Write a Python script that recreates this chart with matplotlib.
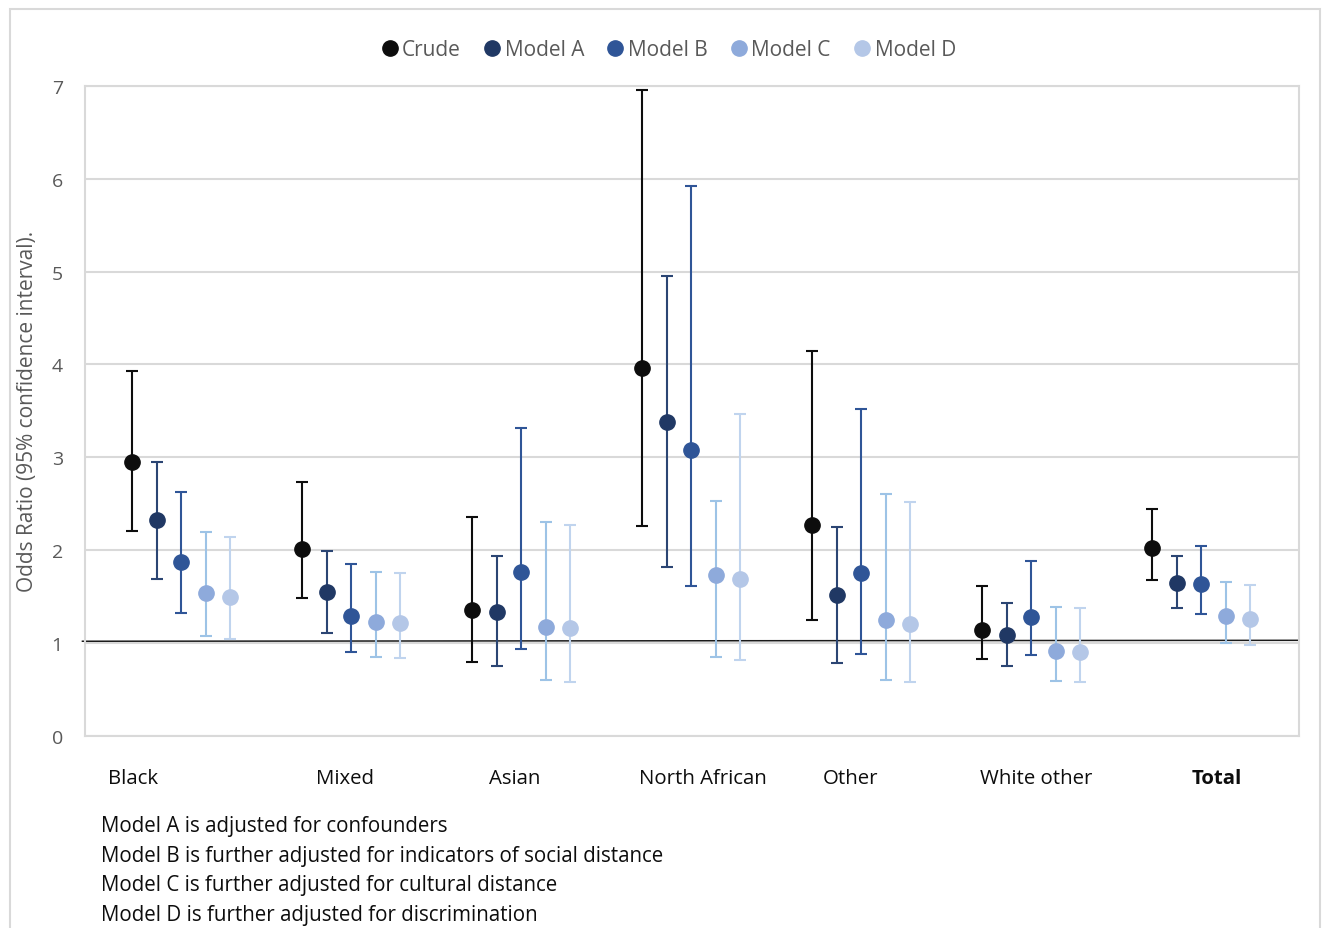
import matplotlib
matplotlib.use("Agg")
import matplotlib.pyplot as plt
from matplotlib.patches import Rectangle
from matplotlib.lines import Line2D
import numpy as np

plt.rcParams['font.family'] = ['Open Sans', 'DejaVu Sans']

categories = ["Black", "Mixed", "Asian", "North African", "Other", "White other", "Total"]
series = ["Crude", "Model A", "Model B", "Model C", "Model D"]

# point estimates per series (one value per category)
crude_or = [2.95, 2.01, 1.36, 3.96, 2.27, 1.14, 2.02]
modelA_or = [2.32, 1.55, 1.34, 3.38, 1.52, 1.09, 1.65]
modelB_or = [1.87, 1.29, 1.77, 3.08, 1.75, 1.28, 1.64]
modelC_or = [1.54, 1.23, 1.17, 1.73, 1.25, 0.91, 1.29]
modelD_or = [1.50, 1.22, 1.16, 1.69, 1.21, 0.90, 1.26]

# lower 95% CI
crude_lo = [2.21, 1.49, 0.80, 2.26, 1.25, 0.83, 1.68]
modelA_lo = [1.69, 1.11, 0.75, 1.82, 0.79, 0.75, 1.38]
modelB_lo = [1.32, 0.90, 0.94, 1.61, 0.88, 0.87, 1.31]
modelC_lo = [1.08, 0.85, 0.60, 0.85, 0.60, 0.59, 1.00]
modelD_lo = [1.04, 0.84, 0.58, 0.82, 0.58, 0.58, 0.98]

# upper 95% CI
crude_hi = [3.93, 2.73, 2.36, 6.95, 4.14, 1.61, 2.44]
modelA_hi = [2.95, 1.99, 1.94, 4.95, 2.25, 1.43, 1.94]
modelB_hi = [2.63, 1.85, 3.32, 5.92, 3.52, 1.88, 2.05]
modelC_hi = [2.20, 1.76, 2.30, 2.53, 2.60, 1.39, 1.66]
modelD_hi = [2.14, 1.75, 2.27, 3.47, 2.52, 1.38, 1.63]

yticks = [0, 1, 2, 3, 4, 5, 6, 7]
footnotes = [
    "Model A is adjusted for confounders",
    "Model B is further adjusted for indicators of social distance",
    "Model C is further adjusted for cultural distance",
    "Model D is further adjusted for discrimination",
]

point_vals = [crude_or, modelA_or, modelB_or, modelC_or, modelD_or]
lo_vals = [crude_lo, modelA_lo, modelB_lo, modelC_lo, modelD_lo]
hi_vals = [crude_hi, modelA_hi, modelB_hi, modelC_hi, modelD_hi]

marker_colors = ["#0d0d0d", "#203864", "#2f5597", "#8eaadb", "#b4c7e7"]
err_colors = ["#0d0d0d", "#2b4573", "#2f5597", "#9dc3e6", "#c0d4ee"]

W, H = 1325, 929
fig = plt.figure(figsize=(W / 100, H / 100), dpi=100)

# outer chart border
fig.patches.append(Rectangle((10 / W, -0.05), 1310 / W, (H - 10) / H + 0.05,
                             transform=fig.transFigure, fill=False,
                             edgecolor="#d9d9d9", linewidth=1.5))

ax = fig.add_axes([85 / W, (H - 737) / H, (1299 - 85) / W, (737 - 86.7) / H])

offset = 0.144
x_base = np.arange(len(categories))
for k, name in enumerate(series):
    xs = x_base + (k - 2) * offset
    y = np.array(point_vals[k])
    lo = np.array(lo_vals[k])
    hi = np.array(hi_vals[k])
    ax.errorbar(xs, y, yerr=[y - lo, hi - y], fmt="none", ecolor=err_colors[k],
                elinewidth=1.5, capsize=4.5, capthick=1.5, zorder=3)
    ax.plot(xs, y, "o", color=marker_colors[k], markersize=11, zorder=4,
            linestyle="none", label=name)

ax.set_xlim(-0.565, 6.575)
ax.set_ylim(0, 7)
ax.set_yticks(yticks)
ax.set_yticklabels([str(t) for t in yticks], fontsize=14, color="#595959")
ax.tick_params(axis="y", length=0, pad=16)
ax.set_xticks([])
ax.grid(axis="y", color="#d9d9d9", linewidth=1.5, zorder=0)
ax.set_axisbelow(True)
for s in ax.spines.values():
    s.set_color("#d9d9d9")
    s.set_linewidth(1.5)

# reference line at OR = 1
ax.plot([-0.58, 6.57], [1.02, 1.03], color="#1a1a1a", linewidth=1.1,
        zorder=2, clip_on=False)

ax.set_ylabel("Odds Ratio (95% confidence interval).", fontsize=15,
              color="#595959", labelpad=2)
ax.yaxis.set_label_coords(-0.039, 0.5)

# category labels (placed as in the original text boxes)
label_x = [-0.283, 0.965, 1.965, 3.07, 3.94, 5.03, 6.09]
trans = matplotlib.transforms.blended_transform_factory(ax.transData, ax.transAxes)
for i, cat in enumerate(categories):
    ax.text(label_x[i], -0.0645, cat, transform=trans, ha="center", va="center",
            fontsize=14.7, color="#0d0d0d",
            fontweight="bold" if cat == "Total" else "normal")

# legend
handles = [Line2D([0], [0], marker="o", color="none", markerfacecolor=c,
                  markeredgecolor=c, markersize=11) for c in marker_colors]
fig.legend(handles, series, loc="center", bbox_to_anchor=(0.503, (H - 50.5) / H),
           ncol=5, frameon=False, fontsize=15, handletextpad=0.0,
           columnspacing=0.9, labelcolor="#595959", handlelength=1.2)

for j, line in enumerate(footnotes):
    fig.text(101 / W, (H - (827 + j * 29.5)) / H, line, fontsize=14.8,
             color="#0d0d0d", ha="left", va="center")

fig.savefig("out.png", dpi=100)
